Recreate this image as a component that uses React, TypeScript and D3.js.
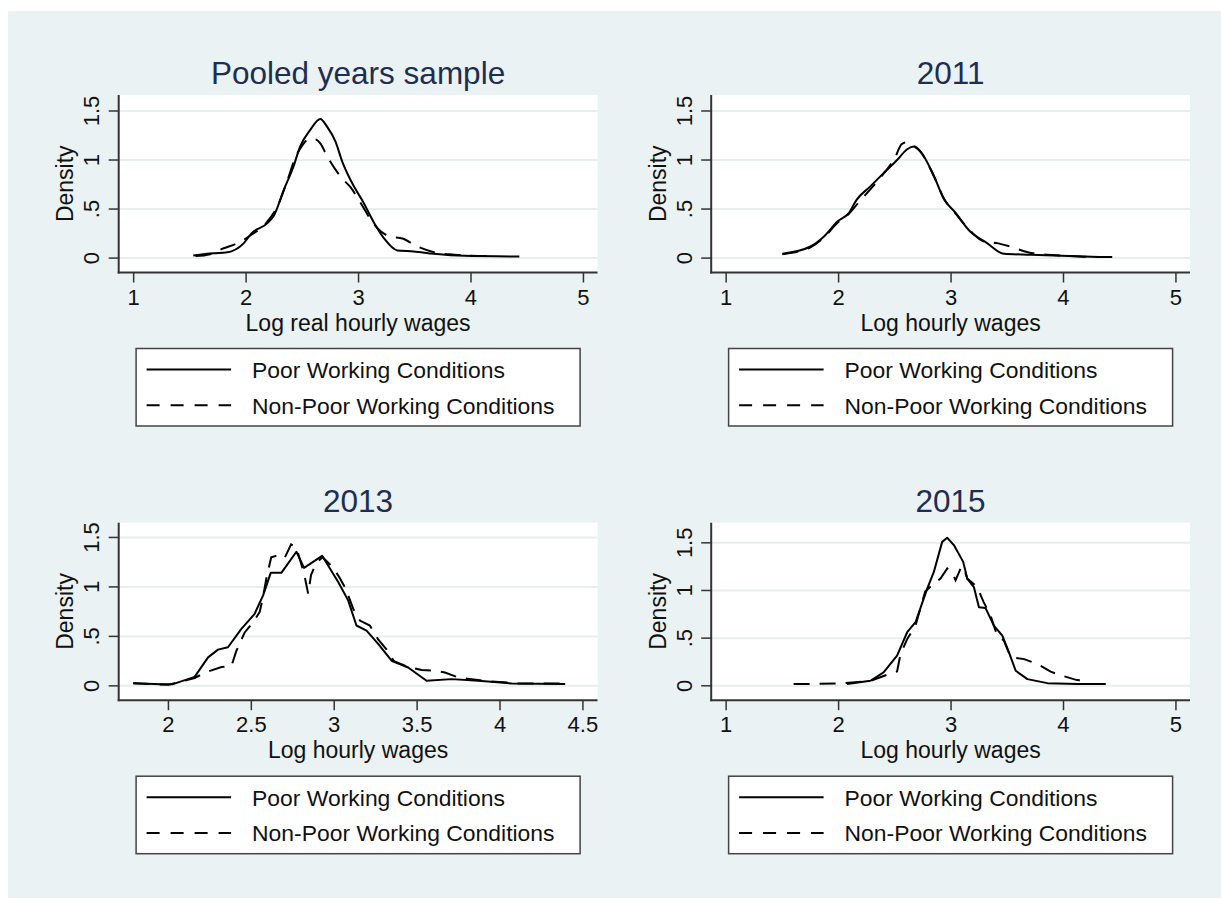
import React, { useEffect, useRef } from "react";
import * as d3 from "d3";

// density curves, [log wage, density]
const pooledPoor: [number, number][] = [
  [1.53, 0.026], [1.71, 0.05], [1.82, 0.057], [1.98, 0.153], [2.05, 0.255], [2.19, 0.356],
  [2.25, 0.44], [2.335, 0.695], [2.42, 0.93], [2.48, 1.137], [2.57, 1.307], [2.66, 1.419],
  [2.72, 1.34], [2.795, 1.187], [2.855, 0.984], [2.96, 0.729], [3.03, 0.594], [3.14, 0.356],
  [3.225, 0.204], [3.345, 0.078], [3.49, 0.068], [3.67, 0.044], [3.94, 0.023], [4.43, 0.016],
];
const pooledNonPoor: [number, number][] = [
  [1.55, 0.02], [1.68, 0.04], [1.8, 0.1], [1.93, 0.155], [2.05, 0.24], [2.18, 0.36], [2.28, 0.53],
  [2.37, 0.8], [2.43, 1.0], [2.5, 1.15], [2.57, 1.22], [2.62, 1.21], [2.66, 1.17], [2.72, 1.04],
  [2.84, 0.83], [2.93, 0.72], [3.02, 0.56], [3.11, 0.39], [3.2, 0.27], [3.28, 0.22], [3.39, 0.2],
  [3.52, 0.12], [3.67, 0.06], [3.85, 0.035], [4.0, 0.025], [4.15, 0.02],
];
const poor2011: [number, number][] = [
  [1.5, 0.044], [1.75, 0.118], [1.87, 0.22], [1.99, 0.373], [2.09, 0.458], [2.16, 0.594],
  [2.28, 0.729], [2.4, 0.866], [2.52, 1.0], [2.61, 1.11], [2.67, 1.137], [2.73, 1.086],
  [2.85, 0.831], [2.94, 0.594], [3.03, 0.475], [3.17, 0.271], [3.32, 0.153], [3.47, 0.044],
  [3.71, 0.034], [3.98, 0.023], [4.33, 0.01],
];
const nonPoor2011: [number, number][] = [
  [1.5, 0.04], [1.75, 0.11], [1.87, 0.21], [1.99, 0.36], [2.09, 0.45], [2.18, 0.57], [2.29, 0.71],
  [2.4, 0.86], [2.5, 1.02], [2.56, 1.16], [2.6, 1.18], [2.66, 1.15], [2.73, 1.08], [2.85, 0.83],
  [2.94, 0.6], [3.03, 0.47], [3.17, 0.28], [3.29, 0.17], [3.42, 0.15], [3.52, 0.12], [3.65, 0.07],
  [3.75, 0.045], [4.0, 0.025], [4.25, 0.012], [4.49, 0.01],
];
const poor2013: [number, number][] = [
  [1.786, 0.027], [1.957, 0.017], [2.027, 0.017], [2.158, 0.091], [2.239, 0.288], [2.299, 0.366],
  [2.359, 0.39], [2.44, 0.576], [2.52, 0.728], [2.571, 0.915], [2.617, 1.142], [2.681, 1.142],
  [2.772, 1.355], [2.818, 1.192], [2.927, 1.314], [3.024, 1.05], [3.084, 0.864], [3.134, 0.61],
  [3.195, 0.559], [3.265, 0.424], [3.346, 0.254], [3.446, 0.186], [3.557, 0.051], [3.708, 0.068],
  [3.869, 0.051], [4.07, 0.024], [4.393, 0.02],
];
const nonPoor2013: [number, number][] = [
  [1.79, 0.027], [2.0, 0.01], [2.158, 0.08], [2.23, 0.14], [2.32, 0.19], [2.38, 0.2], [2.41, 0.355],
  [2.46, 0.54], [2.51, 0.64], [2.55, 0.745], [2.571, 0.9], [2.59, 1.08], [2.62, 1.3], [2.66, 1.32],
  [2.7, 1.29], [2.74, 1.43], [2.772, 1.4], [2.82, 1.12], [2.843, 0.93], [2.86, 1.12], [2.89, 1.24],
  [2.93, 1.3], [2.99, 1.2], [3.03, 1.1], [3.07, 0.98], [3.114, 0.78], [3.155, 0.66], [3.215, 0.61],
  [3.265, 0.47], [3.315, 0.37], [3.36, 0.25], [3.446, 0.19], [3.527, 0.16], [3.59, 0.155],
  [3.668, 0.135], [3.748, 0.085], [3.91, 0.05], [4.11, 0.025], [4.39, 0.025],
];
const poor2015: [number, number][] = [
  [2.075, 0.018], [2.283, 0.053], [2.4, 0.14], [2.52, 0.316], [2.61, 0.562], [2.684, 0.667],
  [2.788, 1.019], [2.847, 1.194], [2.921, 1.51], [2.966, 1.553], [3.025, 1.476], [3.108, 1.3],
  [3.144, 1.125], [3.203, 1.036], [3.248, 0.825], [3.307, 0.815], [3.381, 0.632], [3.456, 0.527],
  [3.515, 0.351], [3.575, 0.158], [3.679, 0.07], [3.857, 0.028], [4.124, 0.018], [4.376, 0.018],
];
const nonPoor2015: [number, number][] = [
  [1.6, 0.018], [1.8, 0.02], [2.0, 0.025], [2.28, 0.05], [2.446, 0.123], [2.52, 0.15], [2.55, 0.33],
  [2.61, 0.49], [2.684, 0.632], [2.77, 0.99], [2.847, 1.07], [2.906, 1.124], [2.966, 1.23],
  [3.01, 1.19], [3.04, 1.107], [3.085, 1.23], [3.11, 1.25], [3.144, 1.125], [3.233, 1.036],
  [3.29, 0.878], [3.35, 0.74], [3.41, 0.527], [3.47, 0.475], [3.53, 0.3], [3.65, 0.28],
  [3.768, 0.228], [3.886, 0.148], [3.99, 0.105], [4.12, 0.06], [4.23, 0.05],
];

const titles = ["Pooled years sample", "2011", "2013", "2015"];
const xTitles = ["Log real hourly wages", "Log hourly wages", "Log hourly wages", "Log hourly wages"];
const xTicksWide = [1, 2, 3, 4, 5];
const xTicks2013 = [2, 2.5, 3, 3.5, 4, 4.5];
const yTicks = [0, 0.5, 1, 1.5];
const seriesNames = ["Poor Working Conditions", "Non-Poor Working Conditions"];

const W = 1221;
const H = 898;
const PW = 478.8; // plot region size
const PH = 177.5;
const FONT = "'Liberation Sans', Arial, sans-serif";

const panels = [
  { title: titles[0], xTitle: xTitles[0], poor: pooledPoor, nonPoor: pooledNonPoor, xTicks: xTicksWide,
    xDomain: [0.867, 5.125], yDomain: [-0.147, 1.663], left: 118.7, top: 95, smooth: true },
  { title: titles[1], xTitle: xTitles[1], poor: poor2011, nonPoor: nonPoor2011, xTicks: xTicksWide,
    xDomain: [0.867, 5.125], yDomain: [-0.147, 1.663], left: 711.2, top: 95, smooth: true },
  { title: titles[2], xTitle: xTitles[2], poor: poor2013, nonPoor: nonPoor2013, xTicks: xTicks2013,
    xDomain: [1.7, 4.588], yDomain: [-0.145, 1.649], left: 118.7, top: 522.7, smooth: false },
  { title: titles[3], xTitle: xTitles[3], poor: poor2015, nonPoor: nonPoor2015, xTicks: xTicksWide,
    xDomain: [0.867, 5.125], yDomain: [-0.151, 1.711], left: 711.2, top: 522.7, smooth: false },
];

const fmt = (d: number) => (d === 0 ? "0" : String(d).replace(/^0\./, "."));

export default function App() {
  const ref = useRef<SVGSVGElement>(null);

  useEffect(() => {
    const svg = d3.select(ref.current);
    svg.selectAll("*").remove();

    svg.append("rect").attr("width", W).attr("height", H).attr("fill", "#fff");
    svg.append("rect").attr("x", 8).attr("y", 11).attr("width", W - 8).attr("height", H - 11).attr("fill", "#eaf2f3");

    panels.forEach((p) => {
      const g = svg.append("g");
      const x = d3.scaleLinear().domain(p.xDomain).range([p.left, p.left + PW]);
      const y = d3.scaleLinear().domain(p.yDomain).range([p.top + PH, p.top]);
      const bottom = p.top + PH;
      const cx = p.left + PW / 2;

      g.append("rect").attr("x", p.left).attr("y", p.top).attr("width", PW).attr("height", PH).attr("fill", "#fff");

      // grid
      g.selectAll(".grid").data(yTicks).join("line")
        .attr("x1", p.left).attr("x2", p.left + PW)
        .attr("y1", (d) => y(d)).attr("y2", (d) => y(d))
        .attr("stroke", "#e6eef0").attr("stroke-width", 2);

      // curves
      const line = d3.line<[number, number]>()
        .x((d) => x(d[0])).y((d) => y(d[1]))
        .curve(p.smooth ? d3.curveMonotoneX : d3.curveLinear);
      g.append("path").datum(p.nonPoor).attr("d", line).attr("fill", "none")
        .attr("stroke", "#000").attr("stroke-width", 2).attr("stroke-dasharray", "16,10");
      g.append("path").datum(p.poor).attr("d", line).attr("fill", "none")
        .attr("stroke", "#000").attr("stroke-width", 2).attr("stroke-linejoin", "round");

      // axes
      g.append("line").attr("x1", p.left).attr("x2", p.left).attr("y1", p.top).attr("y2", bottom + 1)
        .attr("stroke", "#333").attr("stroke-width", 2);
      g.append("line").attr("x1", p.left - 1).attr("x2", p.left + PW).attr("y1", bottom).attr("y2", bottom)
        .attr("stroke", "#333").attr("stroke-width", 2);

      g.selectAll(".yt").data(yTicks).join("line")
        .attr("x1", p.left - 10).attr("x2", p.left)
        .attr("y1", (d) => y(d)).attr("y2", (d) => y(d))
        .attr("stroke", "#333").attr("stroke-width", 1.5);
      g.selectAll(".yl").data(yTicks).join("text")
        .attr("transform", (d) => `translate(${p.left - 19.5},${y(d)}) rotate(-90)`)
        .attr("text-anchor", "middle").attr("font-family", FONT).attr("font-size", 22)
        .attr("fill", "#111").text(fmt);

      g.selectAll(".xt").data(p.xTicks).join("line")
        .attr("x1", (d) => x(d)).attr("x2", (d) => x(d))
        .attr("y1", bottom).attr("y2", bottom + 10)
        .attr("stroke", "#333").attr("stroke-width", 1.5);
      g.selectAll(".xl").data(p.xTicks).join("text")
        .attr("x", (d) => x(d)).attr("y", bottom + 32)
        .attr("text-anchor", "middle").attr("font-family", FONT).attr("font-size", 22)
        .attr("fill", "#111").text(fmt);

      // titles
      g.append("text").attr("x", cx).attr("y", p.top - 11).attr("text-anchor", "middle")
        .attr("font-family", FONT).attr("font-size", 31.5).attr("fill", "#1e2d50").text(p.title);
      g.append("text").attr("x", cx).attr("y", bottom + 58).attr("text-anchor", "middle")
        .attr("font-family", FONT).attr("font-size", 23).attr("fill", "#111").text(p.xTitle);
      g.append("text").attr("transform", `translate(${p.left - 45.5},${p.top + PH / 2}) rotate(-90)`)
        .attr("text-anchor", "middle").attr("font-family", FONT).attr("font-size", 23)
        .attr("fill", "#111").text("Density");

      // legend
      const lx = cx - 222;
      const ly = bottom + 76;
      const leg = g.append("g");
      leg.append("rect").attr("x", lx).attr("y", ly).attr("width", 444).attr("height", 77.5)
        .attr("fill", "#fff").attr("stroke", "#444").attr("stroke-width", 1.5);
      seriesNames.forEach((name, i) => {
        const ry = ly + 21 + i * 35.7;
        leg.append("line").attr("x1", lx + 10.5).attr("x2", lx + 95).attr("y1", ry).attr("y2", ry)
          .attr("stroke", "#000").attr("stroke-width", 2)
          .attr("stroke-dasharray", i === 1 ? "13,11" : null);
        leg.append("text").attr("x", lx + 116).attr("y", ry + 8.5)
          .attr("font-family", FONT).attr("font-size", 22.9).attr("fill", "#111").text(name);
      });
    });
  }, []);

  return (
    <svg ref={ref} width={W} height={H}
      style={{ position: "absolute", left: 0, top: 0, display: "block" }} />
  );
}
